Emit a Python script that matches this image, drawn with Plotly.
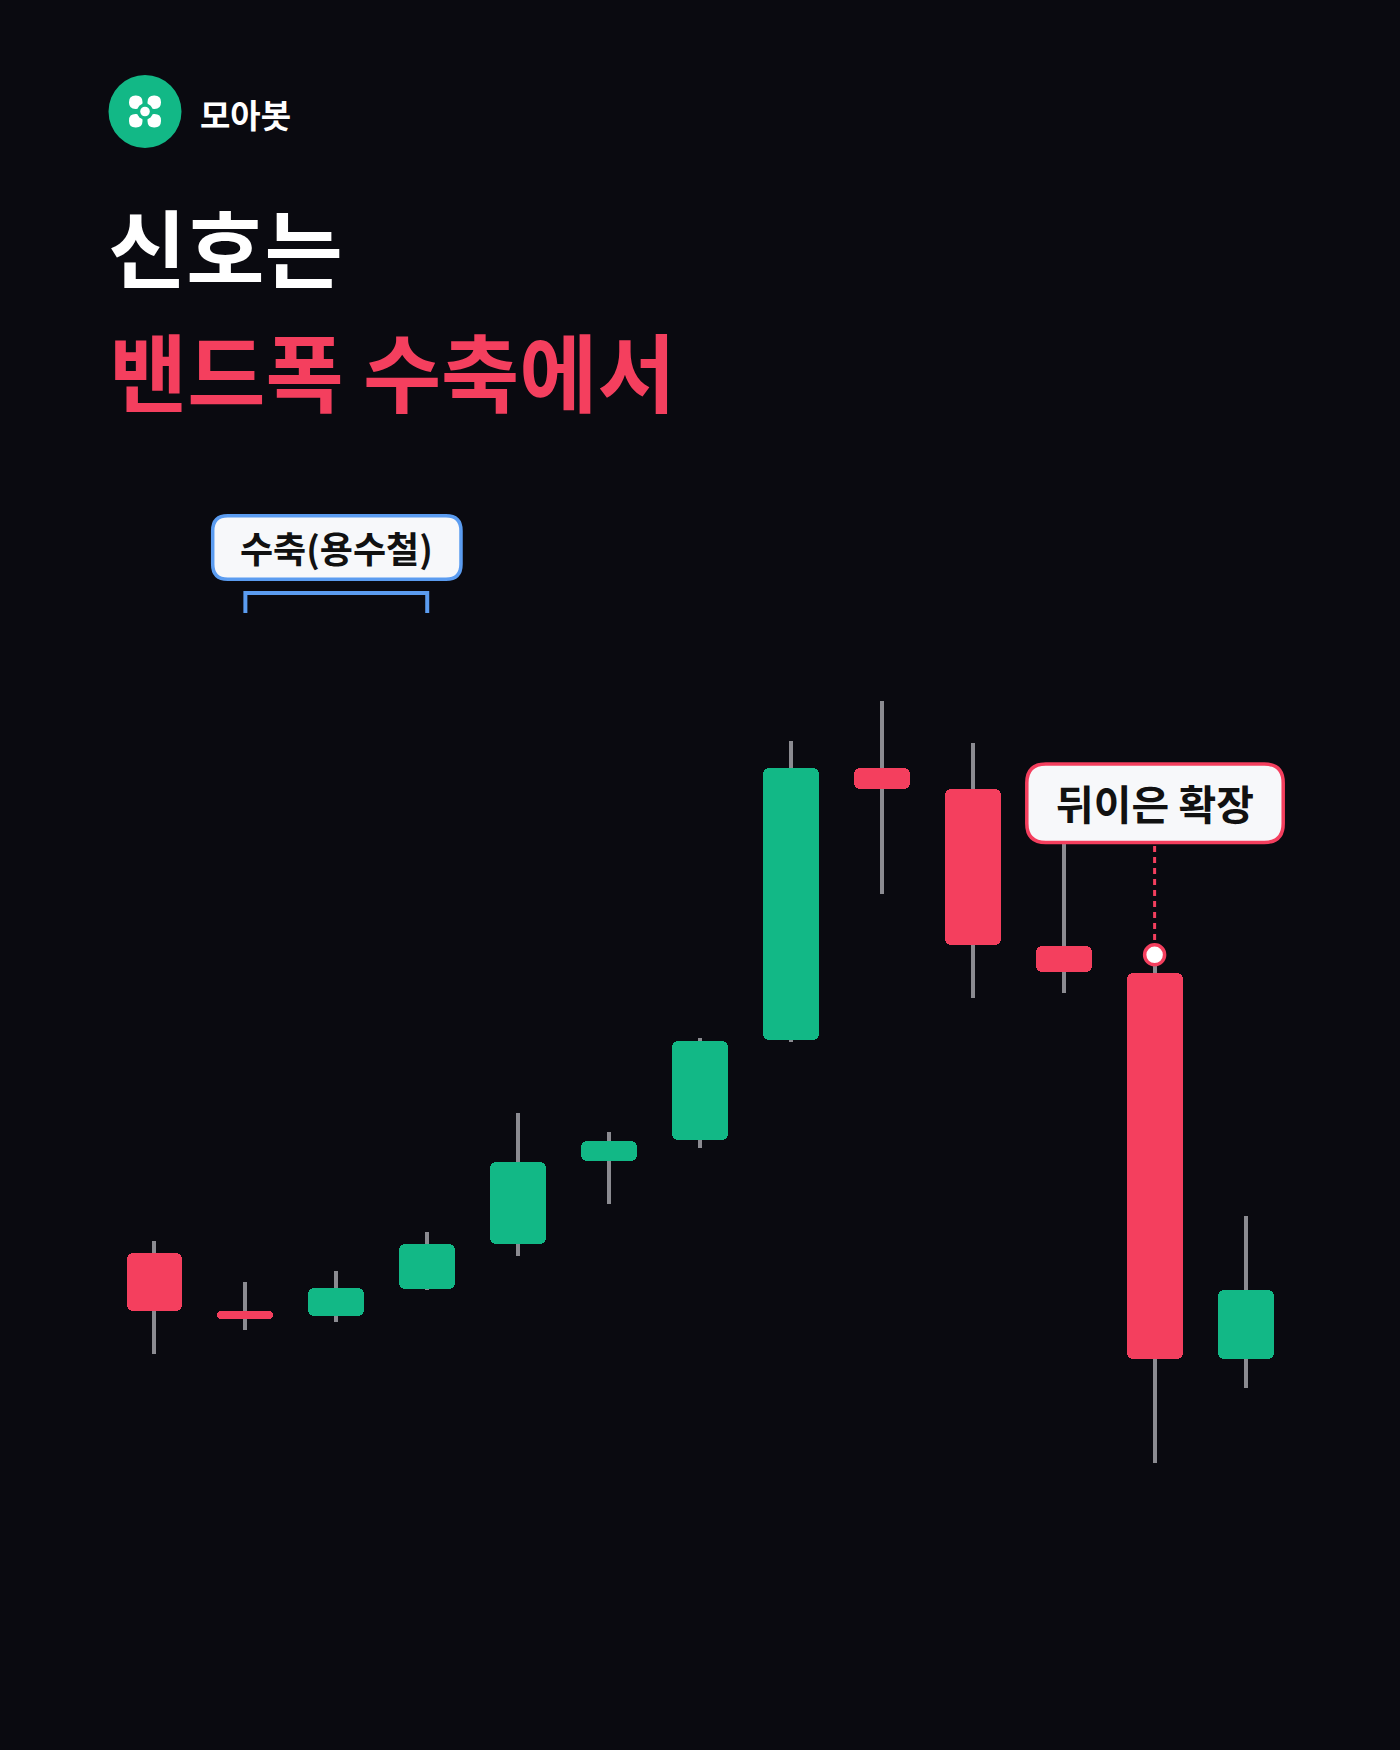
import plotly.graph_objects as go

# ---------------- data ----------------
idx = list(range(13))
opens  = [61.8, 47.2, 46.1, 52.8, 64.0, 84.7, 90.0, 115.0, 182.9, 177.8, 138.6, 131.8, 35.2]
highs  = [64.7, 54.6, 57.2, 66.9, 96.8, 91.9, 115.4, 189.8, 199.8, 189.3, 170.0, 136.3, 71.1]
lows   = [36.4, 42.5, 44.6, 52.4, 61.1, 74.0, 87.9, 114.4, 151.5, 125.6, 126.7, 9.2, 27.9]
closes = [47.2, 45.2, 52.9, 63.9, 84.6, 89.7, 114.8, 182.9, 177.8, 138.8, 131.9, 35.2, 52.5]

logo_text = "모아봇"
title_line1 = "신호는"
title_line2 = "밴드폭 수축에서"
label_contract = "수축(용수철)"
label_expand = "뒤이은 확장"
contract_span = (1, 3)   # candle indices covered by the bracket
contract_label_at = 2
expand_at = 11

# ---------------- styling ----------------
W, H = 1400, 1750
BG = "#0a0a10"
RED = "#f43f5e"
GREEN = "#12b886"
WICK = "#8b8b91"
BLUE = "#5b9cf0"
FONT = "Noto Sans CJK KR"

X_DOM = (109, 1291)     # plot area in page pixels
Y_DOM = (420, 1500)
Y_RANGE = (0, 270)
X_RANGE = (-0.5, 12.5)
PX_PER_X = (X_DOM[1] - X_DOM[0]) / (X_RANGE[1] - X_RANGE[0])


def px(x):
    return x / W


def py(y):
    return 1 - y / H


def data_y(pix):
    # page pixel -> data value on y axis
    return Y_RANGE[0] + (Y_DOM[1] - pix) / (Y_DOM[1] - Y_DOM[0]) * (Y_RANGE[1] - Y_RANGE[0])


def rrect(x0, y0, x1, y1, r):
    def p(x, y):
        return f"{px(x):.6f},{py(y):.6f}"
    return (f"M {p(x0 + r, y0)} L {p(x1 - r, y0)} Q {p(x1, y0)} {p(x1, y0 + r)} "
            f"L {p(x1, y1 - r)} Q {p(x1, y1)} {p(x1 - r, y1)} "
            f"L {p(x0 + r, y1)} Q {p(x0, y1)} {p(x0, y1 - r)} "
            f"L {p(x0, y0 + r)} Q {p(x0, y0)} {p(x0 + r, y0)} Z")


fig = go.Figure()

# wicks (thin bars so they sit behind bodies)
fig.add_trace(go.Bar(
    x=idx, base=lows, y=[h - l for h, l in zip(highs, lows)],
    width=4 / PX_PER_X,
    marker=dict(color=WICK, line=dict(width=0)),
    showlegend=False, hoverinfo="skip",
))

# bodies
colors = [GREEN if c >= o else RED for o, c in zip(opens, closes)]
fig.add_trace(go.Bar(
    x=idx,
    base=[min(o, c) for o, c in zip(opens, closes)],
    y=[abs(c - o) for o, c in zip(opens, closes)],
    width=0.615,
    marker=dict(color=colors, line=dict(width=0), cornerradius=6),
    showlegend=False, hoverinfo="skip",
))

# dotted connector + highlight point on expansion candle high
fig.add_trace(go.Scatter(
    x=[expand_at, expand_at], y=[data_y(846), highs[expand_at] + 3.3],
    mode="lines", line=dict(color=RED, width=3, dash="6px,5px"),
    showlegend=False, hoverinfo="skip"))
fig.add_trace(go.Scatter(
    x=[expand_at], y=[highs[expand_at]], mode="markers",
    marker=dict(size=20, color="#ffffff", line=dict(color=RED, width=3.5)),
    showlegend=False, hoverinfo="skip"))

shapes = []
# logo
cx, cy = 145, 111.5
shapes.append(dict(type="circle", xref="paper", yref="paper",
                   x0=px(cx - 36.5), x1=px(cx + 36.5), y0=py(cy + 36.5), y1=py(cy - 36.5),
                   fillcolor=GREEN, line=dict(width=0)))
for sx in (-1, 1):
    for sy in (-1, 1):
        a0, a1 = 2.5, 16.0
        xa, xb = sorted([cx + sx * a0, cx + sx * a1])
        ya, yb = sorted([cy + sy * a0, cy + sy * a1])
        shapes.append(dict(type="path", xref="paper", yref="paper",
                           path=rrect(xa, ya, xb, yb, 6.5), fillcolor="#ffffff", line=dict(width=0)))
shapes.append(dict(type="circle", xref="paper", yref="paper",
                   x0=px(cx - 8), x1=px(cx + 8), y0=py(cy + 8), y1=py(cy - 8),
                   fillcolor=GREEN, line=dict(width=0)))
shapes.append(dict(type="circle", xref="paper", yref="paper",
                   x0=px(cx - 4.8), x1=px(cx + 4.8), y0=py(cy + 4.8), y1=py(cy - 4.8),
                   fillcolor="#ffffff", line=dict(width=0)))

# contraction label box + bracket
shapes.append(dict(type="path", xref="paper", yref="paper",
                   path=rrect(212.7, 515.7, 461.0, 579.3, 15),
                   fillcolor="#f7f8fa", line=dict(color=BLUE, width=3.5)))
shapes.append(dict(type="path", xref="x", yref="paper",
                   path=(f"M {contract_span[0]},{py(613):.6f} V {py(593):.6f} "
                         f"H {contract_span[1]} V {py(613):.6f}"),
                   line=dict(color=BLUE, width=4)))

# expansion label box
shapes.append(dict(type="path", xref="paper", yref="paper",
                   path=rrect(1026.8, 764.0, 1283.2, 842.5, 19),
                   fillcolor="#f7f8fa", line=dict(color=RED, width=3.5)))

annotations = [
    dict(text=f"<b>{logo_text}</b>", x=px(198), y=py(114), xref="paper", yref="paper",
         xanchor="left", yanchor="middle", showarrow=False,
         font=dict(family=FONT, size=33, color="#ffffff")),
    dict(text=f"<b>{title_line1}</b>", x=px(106), y=py(244), xref="paper", yref="paper",
         xanchor="left", yanchor="middle", showarrow=False,
         font=dict(family=FONT, size=85, color="#ffffff")),
    dict(text=f"<b>{title_line2}</b>", x=px(107), y=py(368), xref="paper", yref="paper",
         xanchor="left", yanchor="middle", showarrow=False,
         font=dict(family=FONT, size=85, color=RED)),
    dict(text=f"<b>{label_contract}</b>", x=contract_label_at, y=py(547), xref="x", yref="paper",
         xanchor="center", yanchor="middle", showarrow=False,
         font=dict(family=FONT, size=36, color="#111111")),
    dict(text=f"<b>{label_expand}</b>", x=expand_at, y=py(802), xref="x", yref="paper",
         xanchor="center", yanchor="middle", showarrow=False,
         font=dict(family=FONT, size=41, color="#111111")),
]

fig.update_layout(
    width=W, height=H,
    margin=dict(l=0, r=0, t=0, b=0),
    paper_bgcolor=BG, plot_bgcolor=BG,
    xaxis=dict(domain=[px(X_DOM[0]), px(X_DOM[1])], range=list(X_RANGE), visible=False, fixedrange=True),
    yaxis=dict(domain=[py(Y_DOM[1]), py(Y_DOM[0])], range=list(Y_RANGE), visible=False, fixedrange=True),
    shapes=shapes,
    annotations=annotations,
    barmode="overlay",
    bargap=0,
    showlegend=False,
)

fig.write_html("out.html", config={"displayModeBar": False},
               post_script="document.body.style.margin='0';document.body.style.background='#0a0a10';")
